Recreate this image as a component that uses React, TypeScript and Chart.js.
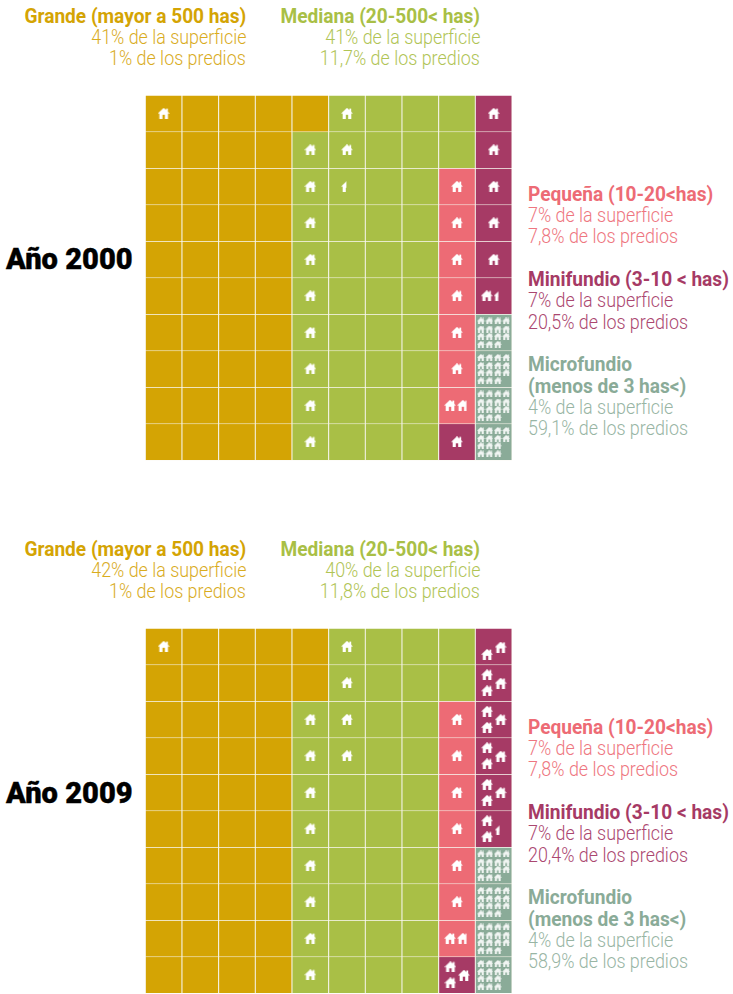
import React, { useEffect, useRef } from "react";
import { Chart, registerables } from "chart.js";

Chart.register(...registerables);

const columns = ["1", "2", "3", "4", "5", "6", "7", "8", "9", "10"];

// G grande, M mediana, P pequeña, N minifundio, C microfundio
const cells2000 = [
  "GGGGGMMMMN",
  "GGGGMMMMMN",
  "GGGGMMMMPN",
  "GGGGMMMMPN",
  "GGGGMMMMPN",
  "GGGGMMMMPN",
  "GGGGMMMMPC",
  "GGGGMMMMPC",
  "GGGGMMMMPC",
  "GGGGMMMMNC",
];
const cells2009 = [
  "GGGGGMMMMN",
  "GGGGGMMMMN",
  "GGGGMMMMPN",
  "GGGGMMMMPN",
  "GGGGMMMMPN",
  "GGGGMMMMPN",
  "GGGGMMMMPC",
  "GGGGMMMMPC",
  "GGGGMMMMPC",
  "GGGGMMMMNC",
];
const houses2000 = [
  [1, 0, 0, 0, 0, 1, 0, 0, 0, 1],
  [0, 0, 0, 0, 1, 1, 0, 0, 0, 1],
  [0, 0, 0, 0, 1, 0.45, 0, 0, 1, 1],
  [0, 0, 0, 0, 1, 0, 0, 0, 1, 1],
  [0, 0, 0, 0, 1, 0, 0, 0, 1, 1],
  [0, 0, 0, 0, 1, 0, 0, 0, 1, 1.4],
  [0, 0, 0, 0, 1, 0, 0, 0, 1, 15],
  [0, 0, 0, 0, 1, 0, 0, 0, 1, 15],
  [0, 0, 0, 0, 1, 0, 0, 0, 1.8, 15],
  [0, 0, 0, 0, 1, 0, 0, 0, 1, 14],
];
const houses2009 = [
  [1, 0, 0, 0, 0, 1, 0, 0, 0, 2],
  [0, 0, 0, 0, 0, 1, 0, 0, 0, 3],
  [0, 0, 0, 0, 1, 1, 0, 0, 1, 3],
  [0, 0, 0, 0, 1, 1, 0, 0, 1, 3],
  [0, 0, 0, 0, 1, 0, 0, 0, 1, 3],
  [0, 0, 0, 0, 1, 0, 0, 0, 1, 2.4],
  [0, 0, 0, 0, 1, 0, 0, 0, 1, 15],
  [0, 0, 0, 0, 1, 0, 0, 0, 1, 15],
  [0, 0, 0, 0, 1, 0, 0, 0, 1.8, 15],
  [0, 0, 0, 0, 1, 0, 0, 0, 3, 14],
];

const legend2000 = {
  G: ["Grande (mayor a 500 has)", "41% de la superficie", "1% de los predios"],
  M: ["Mediana (20-500< has)", "41% de la superficie", "11,7% de los predios"],
  P: ["Pequeña (10-20<has)", "7% de la superficie", "7,8% de los predios"],
  N: ["Minifundio (3-10 < has)", "7% de la superficie", "20,5% de los predios"],
  C: ["Microfundio", "(menos de 3 has<)", "4% de la superficie", "59,1% de los predios"],
};
const legend2009 = {
  G: ["Grande (mayor a 500 has)", "42% de la superficie", "1% de los predios"],
  M: ["Mediana (20-500< has)", "40% de la superficie", "11,8% de los predios"],
  P: ["Pequeña (10-20<has)", "7% de la superficie", "7,8% de los predios"],
  N: ["Minifundio (3-10 < has)", "7% de la superficie", "20,4% de los predios"],
  C: ["Microfundio", "(menos de 3 has<)", "4% de la superficie", "58,9% de los predios"],
};

const fill: Record<string, string> = { G: "#d4a404", M: "#a9bf46", P: "#ed6b75", N: "#a63a65", C: "#8aab98" };
const soft: Record<string, string> = { G: "#d9ac1e", M: "#b0c455", P: "#ee7680", N: "#ab4770", C: "#98b5a4" };
const GAP = "#f6f4ea";
const FONT = 'Roboto, "Liberation Sans", sans-serif';

function houseIcon(w: number, part: number, small: boolean) {
  const c = document.createElement("canvas");
  const h = small ? 7 : Math.round(w * 0.95);
  c.width = w;
  c.height = h;
  const g = c.getContext("2d")!;
  g.save();
  g.beginPath();
  g.rect(0, 0, w * part, h);
  g.clip();
  g.scale(w, h);
  g.fillStyle = small ? "rgba(255,255,255,0.88)" : "#fff";
  g.beginPath();
  const pts = [[0, 0.52], [0.5, 0], [0.7, 0.2], [0.7, 0.06], [0.85, 0.06], [0.85, 0.36], [1, 0.52], [0.86, 0.52], [0.86, 1], [0.6, 1], [0.6, 0.64], [0.4, 0.64], [0.4, 1], [0.14, 1], [0.14, 0.52]];
  pts.forEach(([x, y], i) => (i ? g.lineTo(x, y) : g.moveTo(x, y)));
  g.closePath();
  g.fill();
  g.restore();
  return c;
}

// place the houses of one cell, given how many that cell holds
function housesInCell(n: number): { dx: number; dy: number; small: boolean; part: number }[] {
  const one = (dx: number, dy: number, part = 1, small = false) => ({ dx, dy, part, small });
  if (n >= 14) {
    const xs = [0.15, 0.38, 0.61, 0.84];
    const ys = [0.18, 0.4, 0.6, 0.82];
    const perRow = n === 15 ? [4, 4, 4, 3] : [4, 4, 3, 3];
    const out: any[] = [];
    perRow.forEach((k, r) => {
      for (let i = 0; i < k; i++) out.push(one(xs[i], ys[r], 1, true));
    });
    return out;
  }
  if (n === 3) return [one(0.32, 0.27), one(0.69, 0.5), one(0.32, 0.71)];
  if (n === 2.4) return [one(0.32, 0.27), one(0.69, 0.52, 0.4), one(0.32, 0.71)];
  if (n === 2) return [one(0.32, 0.71), one(0.69, 0.51)];
  if (n > 1) return [one(0.31, 0.49), one(0.66, 0.49, n - 1)];
  if (n === 1) return [one(0.5, 0.49)];
  if (n > 0) return [one(0.5, 0.49, n)];
  return [];
}

function Waffle({ top, cells, houses }: { top: number; cells: string[]; houses: number[][] }) {
  const ref = useRef<HTMLCanvasElement>(null);
  useEffect(() => {
    const points: any[] = [];
    const styles: any[] = [];
    houses.forEach((row, r) =>
      row.forEach((n, c) =>
        housesInCell(n).forEach((h) => {
          points.push({ x: c + h.dx, y: r + h.dy });
          styles.push(houseIcon(h.small ? 8 : 12, h.part, h.small));
        })
      )
    );
    const chart = new Chart(ref.current!, {
      type: "bar",
      data: {
        labels: columns,
        datasets: [
          ...cells.map((row, r) => ({
            label: "fila " + (r + 1),
            data: columns.map(() => 1),
            backgroundColor: row.split("").map((k) => fill[k]),
            borderColor: GAP,
            borderWidth: 0.85,
            barPercentage: 1,
            categoryPercentage: 1,
            grouped: false,
            stack: "s",
            xAxisID: "x",
            yAxisID: "y",
          })),
          {
            type: "scatter",
            label: "predios",
            data: points,
            pointStyle: styles,
            pointRadius: 6,
            order: -1,
            clip: false,
            xAxisID: "x2",
            yAxisID: "y2",
          },
        ] as any,
      },
      options: {
        responsive: false,
        animation: false,
        events: [],
        layout: { autoPadding: false, padding: { left: 0.3, right: 1, top: 0.4, bottom: 2.6 } },
        plugins: { legend: { display: false }, tooltip: { enabled: false } },
        scales: {
          x: { display: false, stacked: true, offset: true },
          y: { display: false, stacked: true, reverse: true, min: 0, max: 10 },
          x2: { type: "linear", axis: "x", display: false, offset: false, min: 0, max: 10 },
          y2: { type: "linear", axis: "y", display: false, offset: false, reverse: true, min: 0, max: 10 },
        },
      },
    } as any);
    return () => chart.destroy();
  }, []);
  return <canvas ref={ref} width={368} height={368} style={{ position: "absolute", left: 145, top, width: 368, height: 368 }} />;
}

function Block({ lines, color, soft: sc, bold, side, x, ys }: { lines: string[]; color: string; soft: string; bold: number; side: "l" | "r"; x: number; ys: number[] }) {
  return (
    <>
      {lines.map((t, i) => (
        <div
          key={i}
          style={{
            position: "absolute",
            top: ys[i] - 15,
            height: 30,
            lineHeight: "30px",
            whiteSpace: "nowrap",
            fontFamily: FONT,
            fontSize: 20,
            fontWeight: i < bold ? 700 : 300,
            color: i < bold ? color : sc,
            transform: `scaleX(${i < bold ? 0.955 : 0.895})`,
            transformOrigin: side === "l" ? "left center" : "right center",
            ...(side === "l" ? { left: x } : { right: 733 - x }),
          }}
        >
          {t}
        </div>
      ))}
    </>
  );
}

function Year({ dy, title, legend, cells, houses, titleY }: any) {
  const at = (a: number[]) => a.map((v) => v + dy);
  return (
    <>
      <Block lines={legend.G} color={fill.G} soft={soft.G} bold={1} side="r" x={246} ys={at([16, 37, 58])} />
      <Block lines={legend.M} color={fill.M} soft={soft.M} bold={1} side="r" x={480} ys={at([16, 37, 58])} />
      <Block lines={legend.P} color={fill.P} soft={soft.P} bold={1} side="l" x={528} ys={at([194, 215, 236])} />
      <Block lines={legend.N} color={fill.N} soft={soft.N} bold={1} side="l" x={528} ys={at([279, 300, 322])} />
      <Block lines={legend.C} color={fill.C} soft={soft.C} bold={2} side="l" x={528} ys={at([364, 386, 407, 428])} />
      <div
        style={{
          position: "absolute",
          left: 6,
          top: titleY - 20,
          height: 40,
          lineHeight: "40px",
          fontFamily: "Roboto, sans-serif",
          fontWeight: 900,
          fontSize: 30,
          color: "#000",
          whiteSpace: "nowrap",
          transform: "scaleX(0.97)",
          transformOrigin: "left center",
          WebkitTextStroke: "0.4px #000",
        }}
      >
        {title}
      </div>
      <Waffle top={95 + dy} cells={cells} houses={houses} />
    </>
  );
}

export default function App() {
  return (
    <div style={{ position: "absolute", left: 0, top: 0, width: 733, height: 994, overflow: "hidden", background: "#fff" }}>
      <Year dy={0} title="Año 2000" titleY={259} legend={legend2000} cells={cells2000} houses={houses2000} />
      <Year dy={533} title="Año 2009" titleY={793} legend={legend2009} cells={cells2009} houses={houses2009} />
    </div>
  );
}
